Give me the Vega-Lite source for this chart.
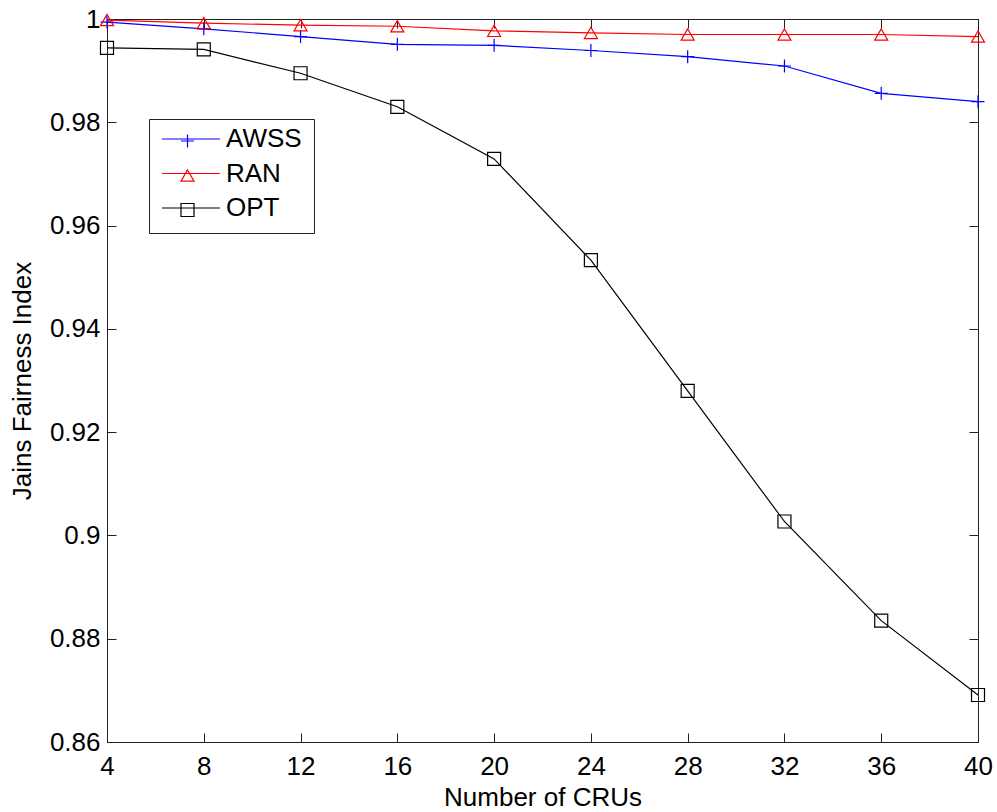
{
  "$schema": "https://vega.github.io/schema/vega-lite/v6.json",
  "width": 871,
  "height": 723,
  "autosize": "none",
  "padding": {"left": 107, "top": 19, "right": 19, "bottom": 70},
  "background": "white",
  "config": {
    "view": {"stroke": "#222", "strokeWidth": 1},
    "font": "Liberation Sans",
    "axis": {
      "grid": false,
      "domainColor": "#222",
      "tickColor": "#222",
      "labelColor": "black",
      "titleColor": "black",
      "labelFont": "Liberation Sans",
      "titleFont": "Liberation Sans",
      "labelFontSize": 26,
      "titleFontSize": 26,
      "titleFontWeight": "normal",
      "labelFlush": false,
      "labelOverlap": false
    }
  },
  "data": {
    "values": [
      {"x": 4, "series": "AWSS", "value": 0.9994},
      {"x": 8, "series": "AWSS", "value": 0.9981},
      {"x": 12, "series": "AWSS", "value": 0.9966},
      {"x": 16, "series": "AWSS", "value": 0.9951},
      {"x": 20, "series": "AWSS", "value": 0.9949},
      {"x": 24, "series": "AWSS", "value": 0.9939},
      {"x": 28, "series": "AWSS", "value": 0.9927},
      {"x": 32, "series": "AWSS", "value": 0.9909},
      {"x": 36, "series": "AWSS", "value": 0.9856},
      {"x": 40, "series": "AWSS", "value": 0.984},
      {"x": 4, "series": "RAN", "value": 0.9998},
      {"x": 8, "series": "RAN", "value": 0.9992},
      {"x": 12, "series": "RAN", "value": 0.9988},
      {"x": 16, "series": "RAN", "value": 0.9986},
      {"x": 20, "series": "RAN", "value": 0.9977},
      {"x": 24, "series": "RAN", "value": 0.9973},
      {"x": 28, "series": "RAN", "value": 0.997},
      {"x": 32, "series": "RAN", "value": 0.997},
      {"x": 36, "series": "RAN", "value": 0.997},
      {"x": 40, "series": "RAN", "value": 0.9966},
      {"x": 4, "series": "OPT", "value": 0.9944},
      {"x": 8, "series": "OPT", "value": 0.9941},
      {"x": 12, "series": "OPT", "value": 0.9895},
      {"x": 16, "series": "OPT", "value": 0.983},
      {"x": 20, "series": "OPT", "value": 0.9729},
      {"x": 24, "series": "OPT", "value": 0.9533},
      {"x": 28, "series": "OPT", "value": 0.928},
      {"x": 32, "series": "OPT", "value": 0.9027},
      {"x": 36, "series": "OPT", "value": 0.8835},
      {"x": 40, "series": "OPT", "value": 0.8691}
    ]
  },
  "layer": [
    {
      "mark": {"type": "line", "strokeWidth": 1.2},
      "encoding": {
        "x": {
          "field": "x",
          "type": "quantitative",
          "scale": {"domain": [4, 40], "nice": false, "zero": false},
          "axis": {
            "orient": "bottom",
            "values": [4, 8, 12, 16, 20, 24, 28, 32, 36, 40],
            "format": "d",
            "title": "Number of CRUs",
            "tickSize": -9,
            "labelPadding": 20,
            "titlePadding": 5
          }
        },
        "y": {
          "field": "value",
          "type": "quantitative",
          "scale": {"domain": [0.86, 1], "nice": false, "zero": false},
          "axis": {
            "orient": "left",
            "values": [0.86, 0.88, 0.9, 0.92, 0.94, 0.96, 0.98, 1],
            "format": ".2~f",
            "title": "Jains Fairness Index",
            "tickSize": -9,
            "labelPadding": 16,
            "titlePadding": 14
          }
        },
        "color": {
          "field": "series",
          "type": "nominal",
          "scale": {"domain": ["AWSS", "RAN", "OPT"], "range": ["#0000ff", "#ff0000", "#000000"]},
          "legend": {
            "orient": "none",
            "legendX": 42,
            "legendY": 100,
            "title": null,
            "symbolType": "stroke",
            "symbolSize": 3364,
            "symbolStrokeWidth": 1.2,
            "labelFont": "Liberation Sans",
            "labelFontSize": 26,
            "labelColor": "black",
            "padding": 12,
            "strokeColor": "#222",
            "clipHeight": 16,
            "rowPadding": 8.5,
            "labelOffset": 5,
            "symbolOffset": 0
          }
        }
      }
    },
    {
      "mark": {"type": "point", "filled": false, "size": 169, "strokeWidth": 1.2, "opacity": 1},
      "encoding": {
        "x": {
          "field": "x",
          "type": "quantitative",
          "axis": {
            "orient": "top",
            "values": [4, 8, 12, 16, 20, 24, 28, 32, 36, 40],
            "labels": false,
            "title": null,
            "tickSize": -9
          }
        },
        "y": {
          "field": "value",
          "type": "quantitative",
          "axis": {
            "orient": "right",
            "values": [0.86, 0.88, 0.9, 0.92, 0.94, 0.96, 0.98, 1],
            "labels": false,
            "title": null,
            "tickSize": -9
          }
        },
        "stroke": {
          "field": "series",
          "type": "nominal",
          "scale": {"domain": ["AWSS", "RAN", "OPT"], "range": ["#0000ff", "#ff0000", "#000000"]},
          "legend": null
        },
        "shape": {
          "field": "series",
          "type": "nominal",
          "scale": {"domain": ["AWSS", "RAN", "OPT"], "range": ["M-1,0L1,0M0,-1L0,1", "triangle-up", "square"]},
          "legend": {
            "orient": "top-left",
            "offset": 109,
            "padding": 0,
            "title": null,
            "symbolSize": 169,
            "symbolStrokeWidth": 1.2,
            "symbolOffset": -41.5,
            "labelFont": "Liberation Sans",
            "labelFontSize": 26,
            "labelExpr": "' '",
            "labelOpacity": 0,
            "rowPadding": 8.5,
            "labelOffset": 5,
            "zindex": 2
          }
        }
      }
    }
  ],
  "resolve": {"axis": {"x": "independent", "y": "independent"}}
}
